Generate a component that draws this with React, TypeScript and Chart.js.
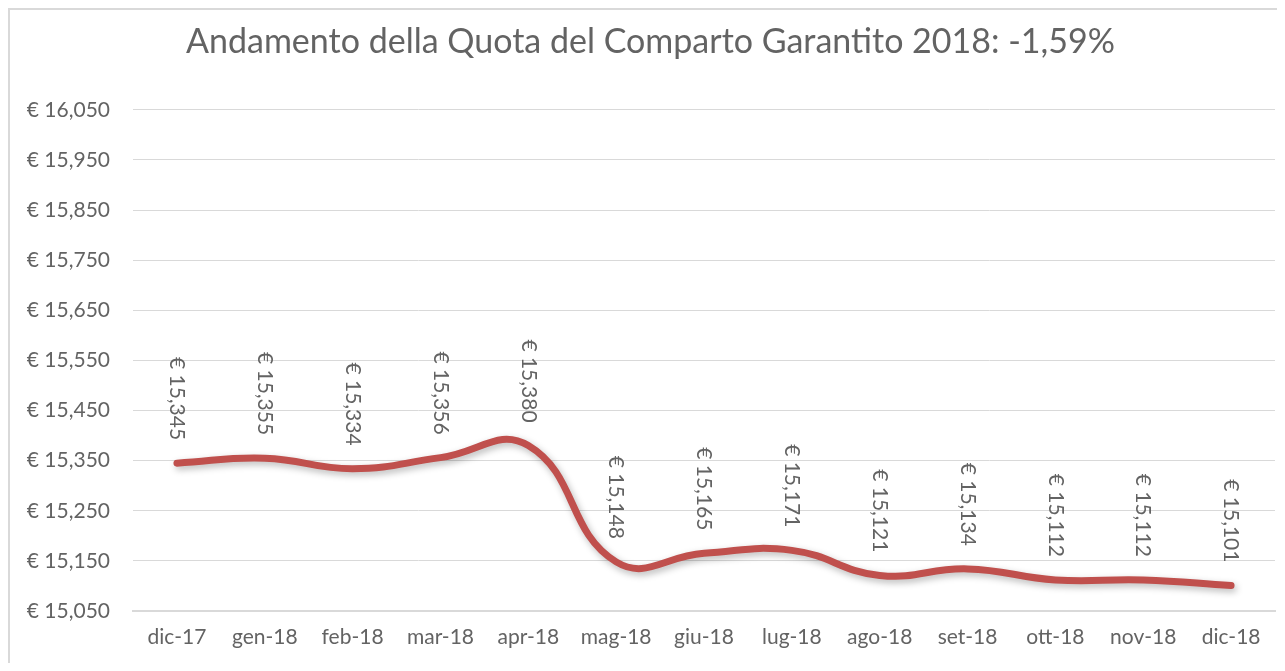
import React, { useEffect, useRef } from "react";
import { Chart, registerables } from "chart.js";

Chart.register(...registerables);

const categories = ["dic-17", "gen-18", "feb-18", "mar-18", "apr-18", "mag-18", "giu-18", "lug-18", "ago-18", "set-18", "ott-18", "nov-18", "dic-18"];
const quotaValues = [15.345, 15.355, 15.334, 15.356, 15.38, 15.148, 15.165, 15.171, 15.121, 15.134, 15.112, 15.112, 15.101];
const yTickValues = [15.05, 15.15, 15.25, 15.35, 15.45, 15.55, 15.65, 15.75, 15.85, 15.95, 16.05];
const titleText = "Andamento della Quota del Comparto Garantito 2018: -1,59%";

const FONT = "Lato";
const TEXT = "#636363";
const fmt = (v: number) => "€ " + v.toFixed(3).replace(".", ",");

const shadowPlugin = {
  id: "lineShadow",
  beforeDatasetDraw(chart: any) {
    const ctx = chart.ctx;
    ctx.save();
    ctx.shadowColor = "rgba(0,0,0,0.28)";
    ctx.shadowBlur = 7;
    ctx.shadowOffsetX = 2;
    ctx.shadowOffsetY = 3;
  },
  afterDatasetDraw(chart: any) {
    chart.ctx.restore();
  },
};

const labelPlugin = {
  id: "rotLabels",
  afterDatasetsDraw(chart: any) {
    const meta = chart.getDatasetMeta(0);
    const ctx = chart.ctx;
    ctx.save();
    ctx.font = `21px ${FONT}`;
    ctx.fillStyle = TEXT;
    meta.data.forEach((pt: any, i: number) => {
      ctx.save();
      ctx.translate(pt.x, pt.y - 23);
      ctx.rotate(Math.PI / 2);
      ctx.textAlign = "right";
      ctx.textBaseline = "middle";
      ctx.fillText(fmt(quotaValues[i]), 0, 0);
      ctx.restore();
    });
    ctx.restore();
  },
};

export default function App() {
  const ref = useRef<HTMLCanvasElement | null>(null);
  useEffect(() => {
    if (!ref.current) return;
    const chart = new Chart(ref.current, {
      type: "line",
      data: {
        labels: categories,
        datasets: [
          {
            data: quotaValues,
            borderColor: "#C0504D",
            borderWidth: 7,
            tension: 0.45,
            pointRadius: 0,
            borderCapStyle: "round",
            fill: false,
          },
        ],
      },
      options: {
        animation: false,
        responsive: false,
        layout: { padding: { left: 16, right: 10, top: 0, bottom: 12 } },
        plugins: {
          legend: { display: false },
          tooltip: { enabled: false },
          title: {
            display: true,
            text: titleText,
            color: TEXT,
            font: { family: FONT, size: 34, weight: "normal" },
            padding: { top: 12, bottom: 47 },
          },
        },
        scales: {
          x: {
            offset: true,
            grid: { display: false, drawTicks: false },
            border: { color: "#D9D9D9", width: 2 },
            ticks: { color: TEXT, font: { family: FONT, size: 21 }, padding: 14, maxRotation: 0 },
            afterFit: (scale: any) => {
              scale.height = 40;
            },
          },
          y: {
            min: 15.05,
            max: 16.05,
            afterBuildTicks: (scale: any) => {
              scale.ticks = yTickValues.map((v) => ({ value: v }));
            },
            afterFit: (scale: any) => {
              scale.width = 107;
            },
            grid: { color: "#D9D9D9", lineWidth: 1, drawTicks: false },
            border: { display: false },
            ticks: {
              color: TEXT,
              font: { family: FONT, size: 21 },
              padding: 23,
              callback: (v: any) => fmt(Number(v)),
            },
          },
        },
      },
      plugins: [shadowPlugin, labelPlugin],
    });
    return () => chart.destroy();
  }, []);
  return (
    <div
      style={{
        width: 1277,
        height: 655,
        boxSizing: "border-box",
        borderLeft: "2px solid #D9D9D9",
        borderTop: "2px solid #D9D9D9",
        background: "#fff",
        overflow: "hidden",
      }}
    >
      <canvas ref={ref} width={1275} height={653} style={{ display: "block" }} />
    </div>
  );
}
